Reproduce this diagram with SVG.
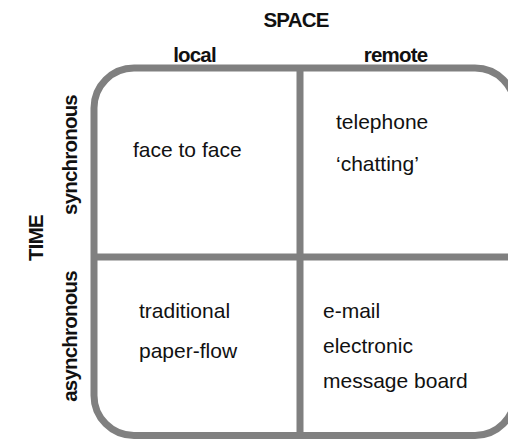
<svg xmlns="http://www.w3.org/2000/svg" width="508" height="439" viewBox="0 0 508 439">
<style>
.frame{fill:none;stroke:#808080;stroke-width:7}
.hd{font-family:"Liberation Sans",Arial,sans-serif;font-weight:bold;font-size:20.5px;fill:#111;letter-spacing:-0.8px}
.tx{font-family:"Liberation Sans",Arial,sans-serif;font-size:21px;fill:#111}
</style>
<rect width="508" height="439" fill="#fff"/>
<g id="connectors">
<rect class="frame" x="94" y="68" width="421" height="367.5" rx="40" ry="40"/>
<line class="frame" x1="300" y1="68" x2="300" y2="435.5"/>
<line class="frame" x1="94" y1="257" x2="515" y2="257"/>
</g>
<g id="axis-space"><text class="hd" x="296" y="27" text-anchor="middle">SPACE</text></g>
<g id="col-local"><text class="hd" x="194.5" y="62" text-anchor="middle">local</text></g>
<g id="col-remote"><text class="hd" x="395.5" y="62" text-anchor="middle">remote</text></g>
<g id="axis-time"><text class="hd" transform="translate(43,238) rotate(-90)" text-anchor="middle">TIME</text></g>
<g id="row-sync"><text class="hd" transform="translate(77,155) rotate(-90)" text-anchor="middle">synchronous</text></g>
<g id="row-async"><text class="hd" transform="translate(77,336.5) rotate(-90)" text-anchor="middle">asynchronous</text></g>
<g id="cell-local-sync"><text class="tx" x="133" y="157">face to face</text></g>
<g id="cell-remote-sync"><text class="tx" x="336" y="129">telephone</text><text class="tx" x="336" y="171">‘chatting’</text></g>
<g id="cell-local-async"><text class="tx" x="139" y="318">traditional</text><text class="tx" x="139" y="358">paper-flow</text></g>
<g id="cell-remote-async"><text class="tx" x="323" y="318">e-mail</text><text class="tx" x="323" y="353">electronic</text><text class="tx" x="323" y="388">message board</text></g>
</svg>
